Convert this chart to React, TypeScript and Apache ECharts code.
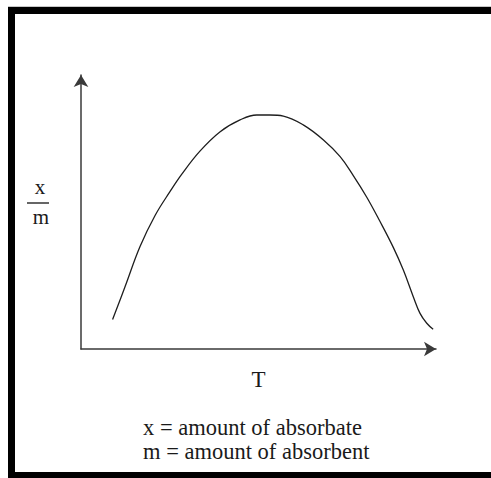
import React, { useEffect, useRef } from "react";
import * as echarts from "echarts";

// Adsorption vs temperature curve (x/m against T), sampled along the curve
const tValues = [
  8.9, 12.4, 16.6, 20.9, 25.1, 28.4, 33.5, 39.2, 44.8, 49.5, 53.2, 57.0, 62.6,
  68.3, 73.0, 76.7, 80.5, 84.2, 88.0, 90.8, 93.6, 95.5, 97.4, 99.2,
];
const xmValues = [
  10.8, 22.7, 37.3, 48.8, 57.5, 63.8, 72.2, 79.3, 83.6, 85.4, 85.4, 85.0, 81.8,
  76.3, 70.2, 63.3, 55.4, 46.6, 37.0, 28.8, 19.1, 13.0, 9.4, 7.2,
];
const xAxisName = "T";
const yLabelTop = "x";
const yLabelBottom = "m";
const legendLines = ["x = amount of absorbate", "m = amount of absorbent"];

const FONT = "'Liberation Serif', 'Times New Roman', serif";
const TEXT_COLOR = "#1a1a1a";

export default function App() {
  const ref = useRef<HTMLDivElement>(null);

  useEffect(() => {
    document.body.style.margin = "0";
    if (!ref.current) return;
    const chart = echarts.init(ref.current, null, { renderer: "svg" });
    const points = tValues.map((t, i) => [t, xmValues[i]]);

    chart.setOption({
      animation: false,
      backgroundColor: "#ffffff",
      grid: { left: 81, right: 55, top: 75, bottom: 129 },
      xAxis: {
        type: "value",
        min: 0,
        max: 100,
        name: xAxisName,
        nameLocation: "middle",
        nameGap: 19,
        nameTextStyle: { fontFamily: FONT, fontSize: 23, color: TEXT_COLOR },
        axisLine: {
          show: true,
          lineStyle: { color: "#3a3a3a", width: 1.5 },
          symbol: ["none", "arrow"],
          symbolSize: [11, 12],
        },
        axisTick: { show: false },
        axisLabel: { show: false },
        splitLine: { show: false },
      },
      yAxis: {
        type: "value",
        min: 0,
        max: 100,
        axisLine: {
          show: true,
          lineStyle: { color: "#3a3a3a", width: 1.5 },
          symbol: ["none", "arrow"],
          symbolSize: [11, 12],
        },
        axisTick: { show: false },
        axisLabel: { show: false },
        splitLine: { show: false },
      },
      series: [
        {
          type: "line",
          data: points,
          smooth: 0.4,
          symbol: "none",
          lineStyle: { color: "#1e1e1e", width: 1.3 },
        },
      ],
      graphic: [
        // frame: top, left and bottom edges only
        { type: "rect", shape: { x: 8, y: 6, width: 483, height: 1 }, style: { fill: "#c8c8c8" } },
        { type: "rect", shape: { x: 8, y: 7, width: 483, height: 7 }, style: { fill: "#000" } },
        { type: "rect", shape: { x: 8, y: 7, width: 7, height: 471 }, style: { fill: "#000" } },
        { type: "rect", shape: { x: 8, y: 472, width: 483, height: 6 }, style: { fill: "#000" } },
        // y label as a fraction
        {
          type: "text",
          x: 40,
          y: 187,
          style: {
            text: yLabelTop,
            font: `21px ${FONT}`,
            fill: TEXT_COLOR,
            align: "center",
            verticalAlign: "middle",
          },
        },
        {
          type: "line",
          shape: { x1: 27, y1: 203, x2: 49, y2: 203 },
          style: { stroke: "#333", lineWidth: 1.5 },
        },
        {
          type: "text",
          x: 41,
          y: 217,
          style: {
            text: yLabelBottom,
            font: `21px ${FONT}`,
            fill: TEXT_COLOR,
            align: "center",
            verticalAlign: "middle",
          },
        },
        // legend lines
        ...legendLines.map((line, i) => ({
          type: "text",
          x: 143,
          y: 427 + i * 24,
          style: {
            text: line,
            font: `22.5px ${FONT}`,
            fill: TEXT_COLOR,
            align: "left",
            verticalAlign: "middle",
          },
        })),
      ],
    });

    return () => chart.dispose();
  }, []);

  return (
    <div
      ref={ref}
      style={{ position: "fixed", left: 0, top: 0, width: 491, height: 478 }}
    />
  );
}
